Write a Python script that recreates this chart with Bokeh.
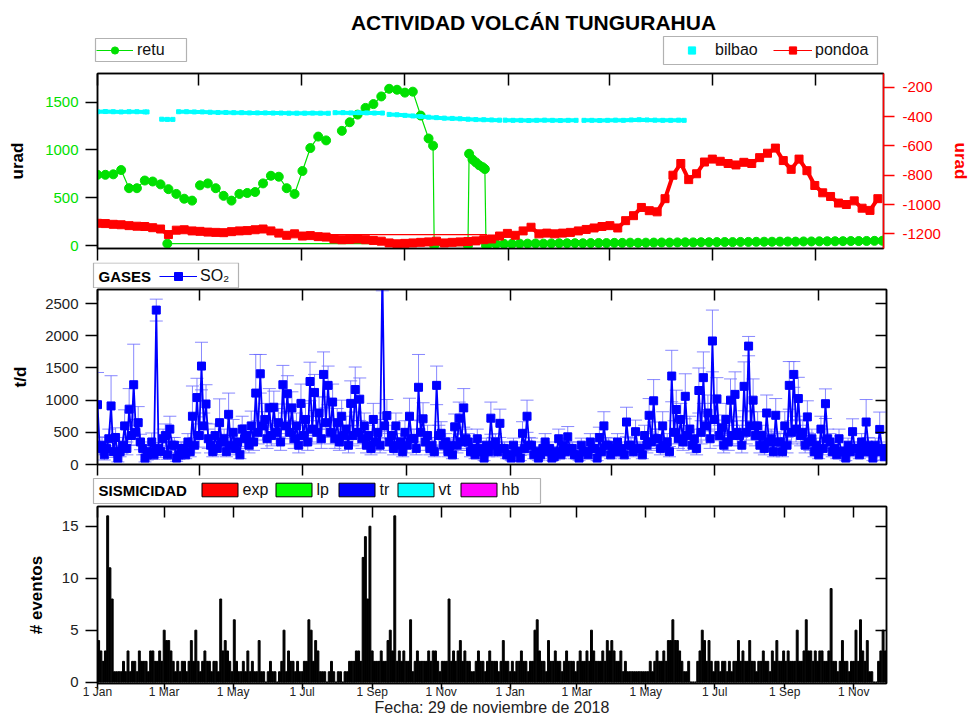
import numpy as np
import pandas as pd
from bokeh.plotting import figure
from bokeh.layouts import column
from bokeh.models import (Range1d, LinearAxis, DatetimeAxis, FixedTicker, Legend, LegendItem,
                          Label, BoxAnnotation, CustomJSTickFormatter)
from bokeh.embed import file_html
from bokeh.resources import INLINE

nan = float("nan")
FONT = "Liberation Sans"
START, END = "2017-01-01", "2018-11-30"

# ---------------- data (days counted from 1 Jan 2017) ----------------
quarter_ticks = ["2017-01-01", "2017-04-01", "2017-07-01", "2017-10-01",
                 "2018-01-01", "2018-04-01", "2018-07-01", "2018-10-01"]
month_ticks = ["2017-01-01", "2017-03-01", "2017-05-01", "2017-07-01", "2017-09-01", "2017-11-01",
               "2018-01-01", "2018-03-01", "2018-05-01", "2018-07-01", "2018-09-01", "2018-11-01"]
month_labels = ["1 Jan", "1 Mar", "1 May", "1 Jul", "1 Sep", "1 Nov",
                "1 Jan", "1 Mar", "1 May", "1 Jul", "1 Sep", "1 Nov"]
pond_ticks = [-1200, -1000, -800, -600, -400, -200]
pond_tick_labels = ["-1200", "-1000", "-800", "-600", "-400", "-200"]

retu_days = [0, 7, 14, 21, 28, 35, 42, 49, 56, 63, 70, 77, 84, 87, 91, 98, 105, 112, 119, 126,
             133, 140, 147, 154, 161, 168, 175, 182, 189, 196, 203, 210, 217, 224, 231, 238, 245, 252, 259, 266,
             273, 280, 287, 294, 298, 299, 329, 330, 333, 336, 339, 342, 344, 345,
             347, 354, 361, 368, 375, 382, 389, 396, 403, 410, 417, 424, 431, 438, 445, 452, 459,
             466, 473, 480, 487, 494, 501, 508, 515, 522, 529, 536, 543, 550, 557, 564, 571, 578,
             585, 592, 599, 606, 613, 620, 627, 634, 641, 648, 655, 662, 669, 676, 683, 690, 697]
retu_vals = [740, 740, 745, 790, 600, 600, 680, 670, 640, 590, 540, 490, 470, nan, 630, 650, 600, 520, 470, 540,
             550, 560, 650, 730, 720, 600, 540, 780, 1020, 1140, 1100, nan, 1200, 1290, 1370, 1440, 1480, 1560, 1640, 1630,
             1600, 1610, 1360, 1120, 1045, 0, 0, 960, 900, 870, 840, 820, 800, 0,
             15, 15, 18, 18, 20, 20, 22, 20, 22, 24, 24, 25, 24, 26, 27, 26, 28,
             28, 30, 29, 30, 31, 32, 31, 33, 34, 33, 35, 35, 36, 37, 36, 38, 38,
             39, 40, 40, 41, 42, 41, 43, 43, 44, 45, 45, 46, 47, 47, 48, 49, 50]
retu2_days = [62, 296]
retu2_vals = [20, 20]

bil_days = [0, 7, 14, 21, 28, 35, 42, 44, 50, 57, 62, 67, 70,
            72, 79, 86, 93, 100, 107, 114, 121, 128, 135, 142, 149, 156, 163, 170, 177, 184, 191, 198, 205, 208,
            211, 218, 225, 232, 239, 246, 253, 256,
            259, 266, 273, 280, 287, 294, 301, 308, 315, 322, 329, 336, 343, 350, 357, 359,
            362, 369, 376, 383, 390, 397, 404, 411, 418, 425, 428,
            432, 439, 446, 453, 460, 467, 474, 481, 488, 495, 502, 509, 516, 521]
bil_vals = [1400, 1402, 1400, 1398, 1400, 1400, 1398, 1398, nan, 1322, 1320, 1320, nan,
            1400, 1400, 1398, 1398, 1395, 1392, 1392, 1390, 1390, 1388, 1388, 1388, 1386, 1386, 1385, 1385, 1385, 1386, 1385, 1384, nan,
            1390, 1390, 1388, 1390, 1388, 1386, 1386, nan,
            1372, 1368, 1362, 1356, 1350, 1343, 1338, 1333, 1330, 1326, 1322, 1318, 1316, 1314, 1312, nan,
            1312, 1310, 1310, 1308, 1310, 1312, 1310, 1308, 1310, 1310, nan,
            1310, 1310, 1308, 1310, 1312, 1310, 1314, 1316, 1314, 1312, 1310, 1310, 1312, 1310]

pond_days = list(range(0, 700, 7))
pond_vals = [-1128, -1130, -1135, -1138, -1144, -1148, -1150, -1158, -1167, -1205,
             -1175, -1172, -1180, -1183, -1188, -1190, -1192, -1185, -1180, -1178,
             -1172, -1167, -1180, -1195, -1210, -1200, -1215, -1212, -1219, -1222,
             -1235, -1240, -1238, -1235, -1240, -1245, -1250, -1262, -1268, -1265,
             -1262, -1258, -1255, -1250, -1262, -1258, -1255, -1252, -1248, -1240,
             -1235, -1215, -1197, -1210, -1180, -1155, -1200, -1195, -1200, -1195,
             -1190, -1180, -1170, -1160, -1150, -1144, -1160, -1110, -1076, -1020,
             -1042, -1050, -960, -800, -720, -830, -790, -710, -690, -705,
             -720, -730, -712, -720, -680, -650, -615, -700, -760, -690,
             -769, -870, -920, -945, -990, -1000, -975, -1025, -1040, -960]
pond2_days = [206, 346]
pond2_vals = [-1205, -1205]

# SO2 (t/d), one value every 2 days
so2 = [930, 250, 300, 150, 250, 400, 910, 200, 420, 100, 200, 300, 600, 250, 860, 450, 1240, 500, 650, 350,
       250, 100, 150, 200, 350, 150, 2400, 250, 200, 400, 450, 150, 550, 300, 300, 100, 150, 250, 250, 150,
       350, 200, 750, 300, 1040, 450, 1530, 600, 940, 400, 300, 200, 450, 250, 650, 350, 400, 200, 780, 300,
       500, 250, 350, 150, 550, 400, 450, 300, 600, 350, 1110, 500, 1410, 600, 700, 400, 880, 450, 890, 500,
       650, 350, 1240, 600, 1100, 500, 880, 400, 600, 300, 950, 450, 700, 350, 1290, 550, 1120, 500, 800, 400,
       1400, 650, 1230, 500, 970, 400, 650, 350, 750, 450, 550, 300, 950, 450, 1165, 500, 1015, 400, 600, 300,
       450, 250, 700, 350, 500, 300, 3000, 600, 760, 350, 450, 250, 600, 300, 350, 200, 500, 300, 750, 400,
       400, 250, 1200, 500, 710, 350, 450, 250, 300, 200, 1230, 450, 485, 300, 350, 200, 300, 150, 585, 300,
       720, 350, 880, 400, 350, 200, 250, 150, 400, 250, 200, 100, 300, 200, 720, 300, 350, 200, 640, 250,
       250, 150, 150, 100, 300, 200, 200, 100, 485, 250, 750, 300, 300, 150, 200, 100, 150, 250, 350, 200,
       250, 100, 120, 200, 400, 150, 300, 200, 430, 250, 250, 150, 150, 100, 300, 200, 200, 150, 350, 250,
       250, 100, 420, 200, 600, 300, 300, 150, 200, 250, 350, 200, 250, 150, 660, 300, 300, 200, 510, 250,
       250, 150, 450, 300, 765, 350, 990, 400, 400, 250, 600, 300, 350, 200, 1375, 500, 855, 400, 700, 350,
       1060, 450, 550, 300, 400, 250, 1150, 500, 1350, 600, 800, 400, 1920, 700, 1020, 450, 570, 300, 700, 350,
       1000, 450, 1090, 500, 450, 300, 1215, 500, 1840, 600, 1000, 450, 600, 300, 450, 250, 800, 350, 400, 200,
       765, 350, 350, 200, 600, 300, 1230, 500, 1400, 550, 1025, 450, 500, 300, 740, 350, 400, 200, 300, 150,
       550, 250, 945, 400, 350, 200, 250, 150, 400, 200, 200, 100, 300, 200, 510, 250, 250, 150, 350, 200,
       660, 300, 200, 100, 300, 200, 545, 250, 120, 150]
so2_err = [500, 100, 120, 80, 100, 150, 470, 90, 150, 60, 80, 120, 250, 100, 320, 150, 630, 200, 250, 120,
           100, 60, 80, 90, 140, 70, 170, 90, 90, 150, 180, 70, 200, 120, 120, 50, 70, 100, 100, 60,
           130, 80, 470, 120, 300, 180, 370, 200, 300, 150, 120, 80, 180, 100, 370, 120, 150, 80, 330, 120,
           200, 100, 130, 60, 200, 150, 170, 120, 230, 130, 600, 180, 300, 220, 250, 150, 300, 160, 250, 180,
           220, 130, 300, 200, 280, 180, 250, 150, 200, 120, 300, 160, 250, 130, 300, 200, 280, 180, 250, 150,
           350, 230, 300, 180, 280, 150, 220, 130, 250, 160, 200, 120, 350, 160, 350, 180, 330, 150, 200, 120,
           160, 100, 250, 130, 200, 120, 300, 200, 250, 130, 160, 100, 200, 120, 130, 80, 180, 120, 280, 150,
           150, 100, 510, 180, 250, 130, 160, 100, 120, 80, 300, 160, 180, 120, 130, 80, 110, 60, 200, 120,
           250, 130, 300, 150, 130, 80, 100, 60, 150, 100, 80, 40, 110, 80, 250, 120, 130, 80, 220, 100,
           100, 60, 60, 40, 110, 80, 80, 40, 180, 100, 250, 120, 110, 60, 80, 40, 60, 100, 130, 80,
           100, 40, 50, 80, 150, 60, 110, 80, 160, 100, 100, 60, 60, 40, 110, 80, 80, 60, 130, 100,
           100, 40, 160, 80, 220, 120, 110, 60, 80, 100, 130, 80, 100, 60, 230, 120, 110, 80, 180, 100,
           100, 60, 160, 120, 260, 130, 330, 150, 150, 100, 220, 120, 130, 80, 400, 180, 300, 150, 250, 130,
           350, 160, 200, 120, 150, 100, 350, 180, 400, 220, 280, 150, 480, 250, 330, 160, 200, 120, 250, 130,
           330, 160, 350, 180, 160, 120, 380, 180, 150, 220, 330, 160, 220, 120, 160, 100, 280, 130, 150, 80,
           260, 130, 130, 80, 220, 120, 370, 180, 200, 200, 330, 160, 180, 120, 250, 130, 150, 80, 110, 60,
           200, 100, 230, 150, 130, 80, 100, 60, 150, 80, 80, 40, 110, 80, 200, 100, 100, 60, 130, 80,
           350, 120, 80, 40, 110, 80, 270, 100, 50, 60]

# events, one bar every 2 days
events = [4, 3, 2, 3, 16, 11, 8, 1, 1, 1,
          1, 2, 1, 3, 1, 2, 2, 1, 3, 2,
          2, 2, 1, 3, 3, 2, 2, 3, 2, 5,
          4, 4, 3, 2, 1, 2, 1, 2, 2, 1,
          2, 4, 2, 5, 2, 1, 2, 3, 2, 2,
          1, 2, 2, 1, 8, 3, 4, 3, 2, 1,
          6, 2, 1, 1, 2, 1, 3, 1, 2, 1,
          1, 4, 1, 1, 0, 1, 2, 1, 1, 0,
          1, 2, 5, 1, 3, 2, 2, 1, 2, 1,
          1, 2, 2, 6, 5, 2, 4, 3, 1, 1,
          1, 0, 1, 2, 1, 0, 1, 1, 0, 1,
          1, 2, 2, 2, 3, 3, 2, 12, 14, 8,
          15, 3, 2, 2, 2, 3, 2, 2, 4, 5,
          3, 16, 2, 3, 2, 3, 2, 2, 6, 1,
          2, 3, 2, 2, 2, 2, 3, 2, 3, 3,
          2, 1, 2, 2, 2, 8, 2, 3, 2, 3,
          4, 2, 3, 2, 2, 1, 1, 2, 3, 2,
          2, 1, 2, 3, 2, 2, 2, 1, 2, 4,
          2, 2, 1, 2, 1, 2, 2, 3, 2, 2,
          1, 2, 2, 5, 6, 3, 2, 2, 1, 4,
          2, 2, 3, 2, 2, 1, 2, 3, 2, 2,
          2, 1, 2, 3, 2, 2, 3, 2, 5, 3,
          2, 2, 2, 3, 2, 4, 3, 4, 3, 2,
          2, 3, 1, 2, 1, 1, 1, 1, 1, 1,
          1, 1, 1, 1, 2, 1, 2, 3, 2, 2,
          3, 2, 4, 4, 6, 4, 4, 3, 2, 1,
          1, 2, 0, 0, 0, 2, 3, 5, 4, 2,
          4, 2, 1, 2, 2, 1, 2, 2, 1, 2,
          1, 2, 2, 4, 2, 3, 2, 2, 4, 2,
          2, 1, 2, 2, 3, 2, 2, 1, 3, 2,
          4, 2, 2, 3, 2, 3, 2, 2, 2, 5,
          2, 2, 3, 6, 3, 3, 2, 3, 2, 3,
          3, 2, 2, 3, 9, 2, 2, 1, 2, 4,
          2, 2, 1, 2, 2, 5, 2, 6, 3, 2,
          4, 1, 1, 0, 0, 2, 3, 5, 3, 5]

seis_types = ["exp", "lp", "tr", "vt", "hb"]
seis_colors = ["#ff0000", "#00ff00", "#0000ff", "#00ffff", "#ff00ff"]

# ---------------- helpers ----------------
DAY = 86400000.0


def ms(s):
    return float(pd.Timestamp(s).value // 10**6)


START_MS, END_MS = ms(START), ms(END)


def dx(days):
    return START_MS + np.asarray(days, dtype=float) * DAY


GREEN, CYAN, RED, BLUE = "#00e000", "#00ffff", "#ff0000", "#0000ff"
W = 972
EMPTY = CustomJSTickFormatter(code="return ''")
OFF = [-1000]   # legend swatch renderers sit outside the visible strip


def make_fig(h, top, bottom, yr):
    p = figure(width=W, height=h, x_axis_type="datetime", output_backend="svg", toolbar_location=None,
               x_range=Range1d(START_MS, END_MS), y_range=yr,
               min_border_left=97, min_border_right=86, min_border_top=top, min_border_bottom=bottom)
    p.frame_align = False
    p.xgrid.visible = False
    p.ygrid.visible = False
    p.outline_line_color = "black"
    p.outline_line_width = 1.5
    p.background_fill_color = "white"
    p.border_fill_color = "white"
    return p


def strip(h):
    s = figure(width=W, height=h, x_range=Range1d(0, W), y_range=Range1d(0, h), output_backend="svg",
               toolbar_location=None, x_axis_location=None, y_axis_location=None, min_border=0)
    s.frame_align = False
    s.outline_line_color = None
    s.xgrid.visible = False
    s.ygrid.visible = False
    s.background_fill_color = "white"
    s.border_fill_color = "white"
    return s


def style(ax, tin=0, tout=0, labels=True, size="15px", color="black", lab_color="#222222"):
    ax.major_tick_in = tin
    ax.major_tick_out = tout
    ax.minor_tick_in = 0
    ax.minor_tick_out = 0
    ax.minor_tick_line_color = None
    ax.axis_line_color = color
    ax.axis_line_width = 1.5
    ax.major_tick_line_color = color
    ax.major_tick_line_width = 1.5
    ax.major_label_text_font = FONT
    if labels:
        ax.major_label_text_font_size = size
        ax.major_label_text_color = lab_color
    else:
        ax.formatter = EMPTY
        ax.major_label_text_font_size = "1px"
        ax.major_label_standoff = 0
    ax.axis_label_text_font = FONT
    ax.axis_label_text_font_style = "bold"
    ax.axis_label_text_font_size = "17px"
    ax.axis_label_text_color = "black"


def add_legend(s, label, renderers, x, y, gw, gh=18, lh=18, standoff=3, size="16px"):
    leg = Legend(items=[LegendItem(label=label, renderers=renderers)], location=(x, y),
                 orientation="horizontal", border_line_color=None, background_fill_alpha=0,
                 padding=0, margin=0, glyph_width=gw, glyph_height=gh, label_height=lh,
                 label_standoff=standoff, label_text_font=FONT, label_text_font_size=size,
                 label_text_color="#111111")
    s.add_layout(leg)


def add_box(s, left, right, bottom, top):
    s.add_layout(BoxAnnotation(left=left, right=right, bottom=bottom, top=top, left_units="screen",
                               right_units="screen", bottom_units="screen", top_units="screen",
                               fill_color="white", fill_alpha=1, line_color="black", line_width=1.2))


q_ms = [ms(t) for t in quarter_ticks]
m_ms = [ms(t) for t in month_ticks]

# ---------------- header strip: title + tilt legends (page y 0-70) ----------------
sA = strip(70)
sA.add_layout(Label(x=533, y=48, x_units="screen", y_units="screen", text="ACTIVIDAD VOLCÁN TUNGURAHUA",
                    text_font=FONT, text_font_style="bold", text_font_size="21px", text_color="black",
                    text_align="center", text_baseline="middle"))
d_rl = sA.line(x=OFF, y=OFF, color=GREEN, line_width=1.2)
d_rs = sA.scatter(x=OFF, y=OFF, marker="circle", size=9, color=GREEN)
d_bs = sA.scatter(x=OFF, y=OFF, marker="square", size=5, color=CYAN)
d_pl = sA.line(x=OFF, y=OFF, color=RED, line_width=1.2)
d_ps = sA.scatter(x=OFF, y=OFF, marker="square", size=9, color=RED)
add_box(sA, 95, 186, 9, 32)
add_legend(sA, "retu", [d_rl, d_rs], 96, 11, 37, standoff=4)
add_box(sA, 663, 877, 6, 34)
add_legend(sA, "bilbao", [d_bs], 672, 11, 39, standoff=4)
add_legend(sA, "pondoa", [d_pl, d_ps], 773, 11, 39, standoff=3)

# ---------------- panel 1: tilt (page y 70-262) ----------------
p1 = make_fig(192, 3, 14, Range1d(-31, 1800))
p1.extra_y_ranges = {"pond": Range1d(-1300, -106)}
p1.xaxis[0].ticker = FixedTicker(ticks=q_ms)
style(p1.xaxis[0], tout=12, labels=False)
ax = DatetimeAxis(ticker=FixedTicker(ticks=q_ms))
style(ax, tin=12, labels=False)
p1.add_layout(ax, "above")
p1.yaxis[0].ticker = FixedTicker(ticks=[0, 500, 1000, 1500])
style(p1.yaxis[0], tout=12, lab_color=GREEN)
p1.yaxis[0].major_label_standoff = 7
p1.yaxis[0].axis_label = "urad"
p1.yaxis[0].axis_label_standoff = 15
rax = LinearAxis(y_range_name="pond", ticker=FixedTicker(ticks=pond_ticks))
style(rax, tout=11, color=RED, lab_color=RED)
rax.major_label_overrides = {t: s for t, s in zip(pond_ticks, pond_tick_labels)}
rax.major_label_standoff = 8
rax.axis_label = "urad"
rax.axis_label_text_color = RED
rax.axis_label_standoff = 7
p1.add_layout(rax, "right")

p1.line(dx(retu2_days), retu2_vals, color=GREEN, line_width=1.2)
p1.scatter(dx(retu2_days)[:1], retu2_vals[:1], marker="circle", size=9, color=GREEN)
p1.line(dx(retu_days), retu_vals, color=GREEN, line_width=1.2)
p1.scatter(dx(retu_days), retu_vals, marker="circle", size=9, color=GREEN)
p1.line(dx(bil_days), bil_vals, color=CYAN, line_width=4)
p1.scatter(dx(bil_days), bil_vals, marker="square", size=4, color=CYAN)
p1.line(dx(pond2_days), pond2_vals, color=RED, line_width=1.2, y_range_name="pond")
p1.line(dx(pond_days), pond_vals, color=RED, line_width=4, y_range_name="pond")
p1.scatter(dx(pond_days), pond_vals, marker="square", size=8, color=RED, y_range_name="pond")

# ---------------- strip B: gases legend (page y 262-288) ----------------
sB = strip(26)
add_box(sB, 93, 238, 0.7, 25.5)
sB.add_layout(Label(x=98, y=12, x_units="screen", y_units="screen", text="GASES", text_font=FONT,
                    text_font_style="bold", text_font_size="15px", text_color="black",
                    text_align="left", text_baseline="middle"))
d_sl = sB.line(x=OFF, y=OFF, color=BLUE, line_width=1.2)
d_ss = sB.scatter(x=OFF, y=OFF, marker="square", size=9, color=BLUE)
add_legend(sB, "SO₂", [d_sl, d_ss], 159, 2, 38, gh=20, lh=20, standoff=3)

# ---------------- panel 2: SO2 (page y 288-476) ----------------
p2 = make_fig(188, 1, 12, Range1d(0, 2720))
p2.xaxis[0].ticker = FixedTicker(ticks=q_ms)
style(p2.xaxis[0], tout=11, labels=False)
ax = DatetimeAxis(ticker=FixedTicker(ticks=q_ms))
style(ax, tin=11, labels=False)
p2.add_layout(ax, "above")
p2.yaxis[0].ticker = FixedTicker(ticks=[0, 500, 1000, 1500, 2000, 2500])
style(p2.yaxis[0], tout=12)
p2.yaxis[0].major_label_standoff = 7
p2.yaxis[0].axis_label = "t/d"
p2.yaxis[0].axis_label_standoff = 12
ax = LinearAxis(ticker=FixedTicker(ticks=[500, 1000, 1500, 2000, 2500]))
style(ax, tin=11, labels=False)
p2.add_layout(ax, "right")

so2_x = START_MS + np.arange(len(so2)) * 2 * DAY
so2_v = np.array(so2, dtype=float)
so2_e = np.array(so2_err, dtype=float)
lo = np.maximum(so2_v - so2_e, 0)
hi = so2_v + so2_e
EB = "#6a6aff"
p2.segment(so2_x, lo, so2_x, hi, line_color=EB, line_width=1, line_alpha=0.8)
p2.scatter(so2_x, hi, marker="dash", size=13, line_color=EB, line_width=1, line_alpha=0.8)
p2.scatter(so2_x, lo, marker="dash", size=13, line_color=EB, line_width=1, line_alpha=0.8)
p2.line(so2_x, so2_v, color=BLUE, line_width=1.8)
p2.scatter(so2_x, so2_v, marker="square", size=8, color=BLUE)

# ---------------- strip C: seismicity legend (page y 476-504) ----------------
sC = strip(28)
add_box(sC, 93, 540, 1, 26)
sC.add_layout(Label(x=98, y=14, x_units="screen", y_units="screen", text="SISMICIDAD", text_font=FONT,
                    text_font_style="bold", text_font_size="15px", text_color="black",
                    text_align="left", text_baseline="middle"))
for lab, col, gx in zip(seis_types, seis_colors, [196.5, 270.5, 333.5, 392.5, 455.5]):
    r = sC.vbar(x=OFF, top=OFF, width=1, fill_color=col, line_color="black", line_width=1)
    add_legend(sC, lab, [r], gx, 5.5, 45, gh=17, lh=17, standoff=1)

# ---------------- panel 3: seismicity (page y 504-719) ----------------
p3 = make_fig(215, 2, 36, Range1d(-0.13, 16.9))
p3.xaxis[0].ticker = FixedTicker(ticks=m_ms)
style(p3.xaxis[0], tout=6, size="12px")
p3.xaxis[0].major_label_overrides = {int(t): lab for t, lab in zip(m_ms, month_labels)}
p3.xaxis[0].major_label_standoff = -5
p3.xaxis[0].major_label_text_align = "left"
p3.xaxis[0].axis_label = "Fecha: 29 de noviembre de 2018"
p3.xaxis[0].axis_label_text_font_style = "normal"
p3.xaxis[0].axis_label_text_font_size = "16px"
p3.xaxis[0].axis_label_text_color = "#222222"
p3.xaxis[0].axis_label_standoff = -3
ax = DatetimeAxis(ticker=FixedTicker(ticks=m_ms))
style(ax, tin=11, labels=False)
p3.add_layout(ax, "above")
p3.yaxis[0].ticker = FixedTicker(ticks=[0, 5, 10, 15])
style(p3.yaxis[0], tout=12)
p3.yaxis[0].major_label_standoff = 7
p3.yaxis[0].axis_label = "# eventos"
p3.yaxis[0].axis_label_standoff = 13
ax = LinearAxis(ticker=FixedTicker(ticks=[5, 10, 15]))
style(ax, tin=11, labels=False)
p3.add_layout(ax, "right")

ev_x = START_MS + np.arange(len(events)) * 2 * DAY + DAY
p3.vbar(x=ev_x, top=events, bottom=0, width=1.7 * DAY, color="black")

layout = column(sA, p1, sB, p2, sC, p3, spacing=0)
open("out.html", "w").write(file_html(layout, INLINE))
